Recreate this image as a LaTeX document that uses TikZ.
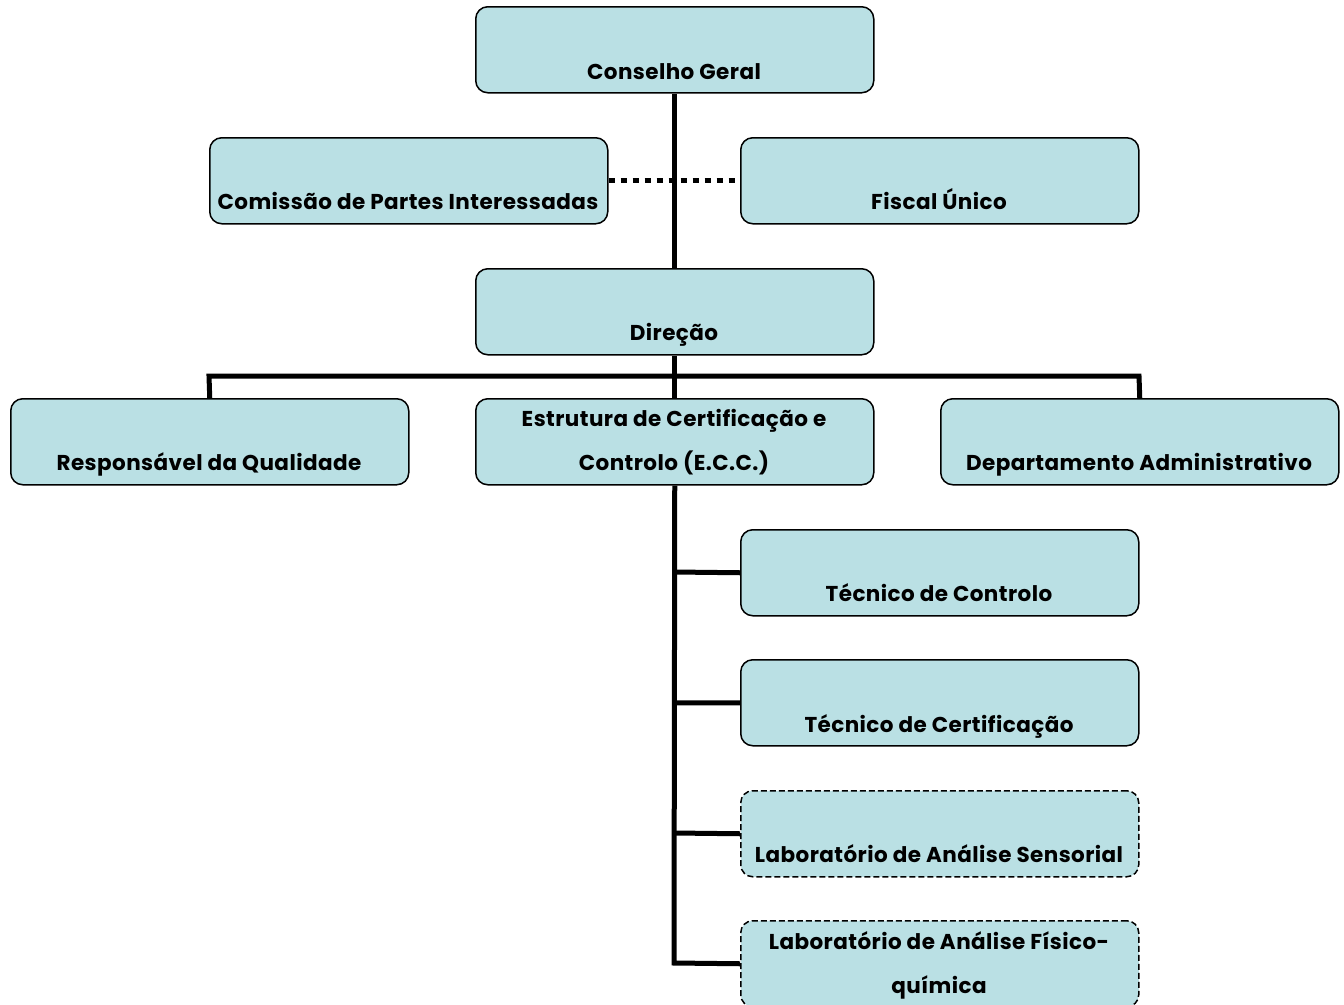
\documentclass[tikz,border=0pt]{standalone}
\usepackage{fontspec}
\setmainfont{Poppins}[LetterSpace=2]
\begin{document}
\begin{tikzpicture}[x=1pt,y=-1pt,
  box/.style={draw=black, line width=1.5pt, rounded corners=12pt, fill=boxfill, minimum width=398pt, minimum height=86pt, inner sep=0pt, anchor=north west},
  dbox/.style={box, dash pattern=on 6pt off 3pt},
  txt/.style={font=\fontsize{21.5}{44}\selectfont\bfseries, anchor=base, inner sep=0pt, align=center},
  conn/.style={line width=5pt, line cap=butt, line join=miter},
  dotconn/.style={line width=5pt, dash pattern=on 6pt off 6pt}
]
\definecolor{boxfill}{RGB}{186,224,228}
\useasboundingbox (0,0) rectangle (1344,1004);
\coordinate (jtop) at (674,376);
\coordinate (jl) at (209,376);
\coordinate (jr) at (1139,376);
\coordinate (b1) at (674,572);
\coordinate (b2) at (674,703);
\coordinate (b3) at (674,833);
\coordinate (b4) at (674,963);
% boxes
\node[box] (cg) at (475,6) {};
\node[box] (cpi) at (209,137) {};
\node[box] (fu) at (740,137) {};
\node[box] (dir) at (475,268) {};
\node[box] (rq) at (10,398) {};
\node[box] (ecc) at (475,398) {};
\node[box] (da) at (940,398) {};
\node[box] (tc) at (740,529) {};
\node[box] (tce) at (740,659) {};
\node[dbox] (las) at (740,790) {};
\node[dbox] (laf) at (740,920) {};
% texts
\node[txt] (tcg) at (674,79) {Conselho Geral};
\node[txt] (tcpi) at (408,209) {Comissão de Partes Interessadas};
\node[txt] (tfu) at (939,209) {Fiscal Único};
\node[txt] (tdir) at (674,340) {Direção};
\node[txt] (trq) at (209,470) {Responsável da Qualidade};
\node[txt] (tecc) at (674,426) {Estrutura de Certificação e};
\node[txt] (tecc2) at (674,470) {Controlo (E.C.C.)};
\node[txt] (tda) at (1139,470) {Departamento Administrativo};
\node[txt] (ttc) at (939,601) {Técnico de Controlo};
\node[txt] (ttce) at (939,732) {Técnico de Certificação};
\node[txt] (tlas) at (939,862) {Laboratório de Análise Sensorial};
\node[txt] (tlaf) at (939,949) {Laboratório de Análise Físico-};
\node[txt] (tlaf2) at (939,993) {química};
% connectors
\draw[conn] (cg.south) -- (dir.north);
\draw[dotconn] (cpi.east) -- (fu.west);
\draw[conn] (dir.south) -- (ecc.north);
\draw[conn] (rq.north) -- (jl) -- (jr) -- (da.north);
\draw[conn] (ecc.south) -- (b4) -- (laf.west);
\draw[conn] (b1) -- (tc.west);
\draw[conn] (b2) -- (tce.west);
\draw[conn] (b3) -- (las.west);
\end{tikzpicture}
\end{document}
